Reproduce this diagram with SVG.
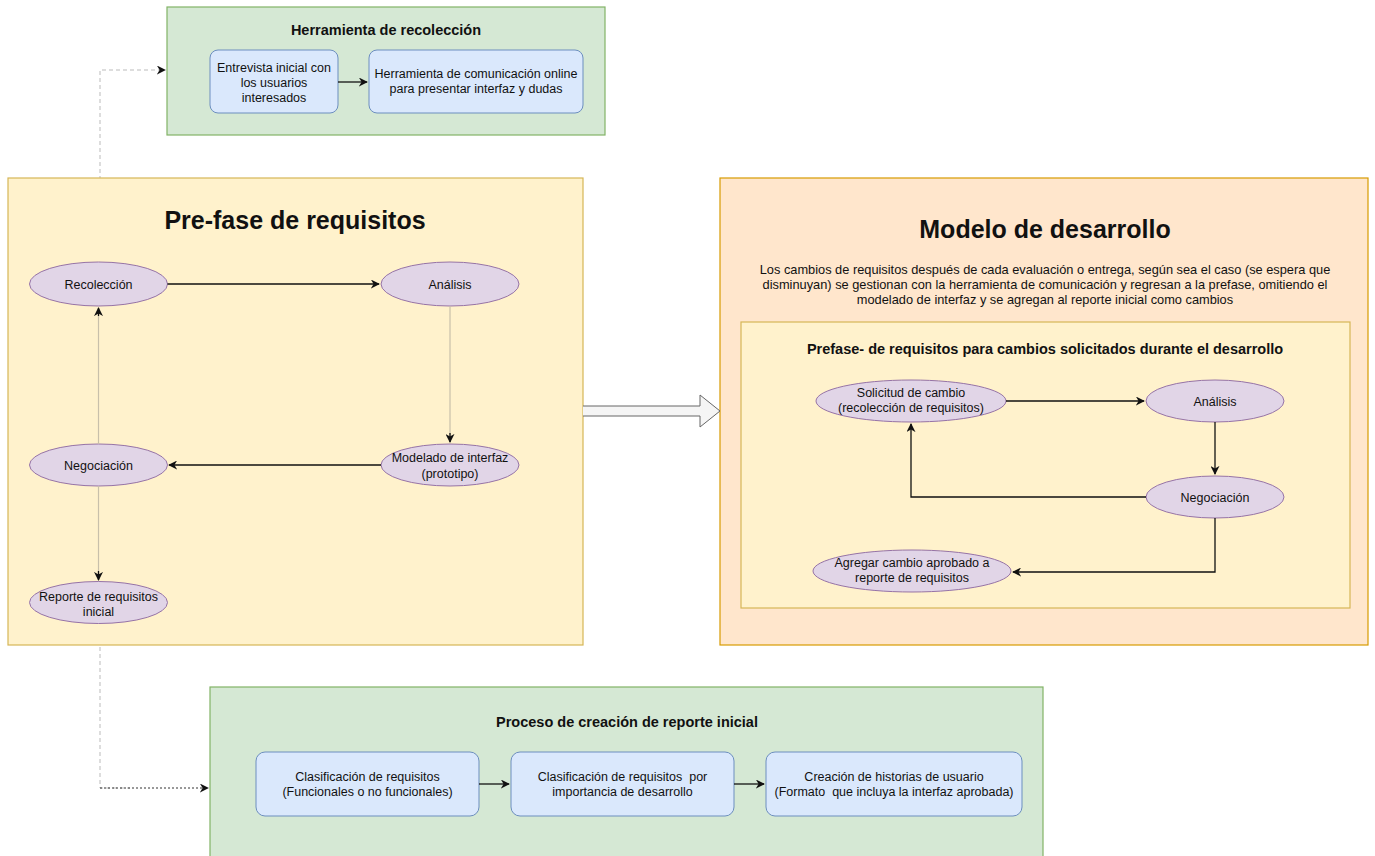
<svg xmlns="http://www.w3.org/2000/svg" width="1375" height="856" viewBox="0 0 1375 856">
<style>
text{font-family:"Liberation Sans",Arial,sans-serif;fill:#111;text-anchor:middle;white-space:pre}
.t{font-size:12.5px}
.s{font-size:12.8px}
.h{font-size:14.5px;font-weight:bold}
.big{font-size:25px;font-weight:bold}
.green{fill:#d5e8d4;stroke:#82b366;stroke-width:1.2}
.yellow{fill:#fff2cc;stroke:#d6b656;stroke-width:1.2}
.orange{fill:#ffe6cc;stroke:#d79b00;stroke-width:1.2}
.blue{fill:#dae8fc;stroke:#6c8ebf;stroke-width:1}
.ell{fill:#e1d5e7;stroke:#9673a6;stroke-width:1}
.blk{fill:none;stroke:#111;stroke-width:1.3}
.gry{fill:none;stroke:#c8c0aa;stroke-width:1.2}
.dash{fill:none;stroke:#bbbbbb;stroke-width:1;stroke-dasharray:4 3}
.dot{fill:none;stroke:#333;stroke-width:1;stroke-dasharray:2 2}
</style>
<defs>
<marker id="ar" viewBox="0 0 10 10" refX="9" refY="5" markerWidth="9" markerHeight="9" markerUnits="userSpaceOnUse" orient="auto">
<path d="M0,0 L10,5 L0,10 L3,5 Z" fill="#111"/>
</marker>
</defs>
<rect width="1375" height="856" fill="#ffffff"/>

<g id="connectors-back">
<polyline class="dash" points="100,180 100,70 165,70" marker-end="url(#ar)"/>
<polyline class="dash" points="100,640 100,788 130,788"/>
<polyline class="dot" points="100,788 208,788" marker-end="url(#ar)"/>
</g>

<g id="herramienta-recoleccion">
<rect class="green" x="167" y="7" width="438" height="128"/>
<text class="h" x="386" y="35">Herramienta de recolección</text>
</g>
<g id="entrevista">
<rect class="blue" x="210" y="50" width="128" height="63" rx="8"/>
<text class="t" x="274" y="72">Entrevista inicial con</text>
<text class="t" x="274" y="87">los usuarios</text>
<text class="t" x="274" y="102">interesados</text>
</g>
<g id="herramienta-comunicacion">
<rect class="blue" x="369" y="50" width="214" height="63" rx="8"/>
<text class="t" x="476" y="78">Herramienta de comunicación online</text>
<text class="t" x="476" y="93">para presentar interfaz y dudas</text>
</g>

<g id="prefase">
<rect class="yellow" x="8" y="178" width="575" height="467"/>
<text class="big" x="295" y="229">Pre-fase de requisitos</text>
</g>
<g id="recoleccion">
<ellipse class="ell" cx="98.5" cy="284" rx="69" ry="22"/>
<text class="t" x="98.5" y="288.5">Recolección</text>
</g>
<g id="analisis">
<ellipse class="ell" cx="450" cy="284" rx="69" ry="22"/>
<text class="t" x="450" y="288.5">Análisis</text>
</g>
<g id="modelado">
<ellipse class="ell" cx="450" cy="465" rx="69" ry="21"/>
<text class="t" x="450" y="461.5">Modelado de interfaz</text>
<text class="t" x="450" y="477.5">(prototipo)</text>
</g>
<g id="negociacion">
<ellipse class="ell" cx="98.5" cy="465" rx="69" ry="21"/>
<text class="t" x="98.5" y="469.5">Negociación</text>
</g>
<g id="reporte">
<ellipse class="ell" cx="98.5" cy="602.5" rx="69" ry="21"/>
<text class="t" x="98.5" y="600.5">Reporte de requisitos</text>
<text class="t" x="98.5" y="615.5">inicial</text>
</g>

<g id="modelo-desarrollo">
<rect class="orange" x="720" y="178" width="648" height="467"/>
<text class="big" x="1045" y="238">Modelo de desarrollo</text>
<text class="s" x="1045" y="274">Los cambios de requisitos después de cada evaluación o entrega, según sea el caso (se espera que</text>
<text class="s" x="1045" y="289">disminuyan) se gestionan con la herramienta de comunicación y regresan a la prefase, omitiendo el</text>
<text class="s" x="1045" y="304">modelado de interfaz y se agregan al reporte inicial como cambios</text>
</g>
<g id="prefase-cambios">
<rect class="yellow" x="741" y="322" width="609" height="286"/>
<text class="h" x="1045" y="354">Prefase- de requisitos para cambios solicitados durante el desarrollo</text>
</g>
<g id="solicitud">
<ellipse class="ell" cx="911" cy="401" rx="95" ry="21"/>
<text class="t" x="911" y="397">Solicitud de cambio</text>
<text class="t" x="911" y="412">(recolección de requisitos)</text>
</g>
<g id="analisis2">
<ellipse class="ell" cx="1215" cy="401" rx="69" ry="21"/>
<text class="t" x="1215" y="405.5">Análisis</text>
</g>
<g id="negociacion2">
<ellipse class="ell" cx="1215" cy="497" rx="69" ry="21"/>
<text class="t" x="1215" y="501.5">Negociación</text>
</g>
<g id="agregar">
<ellipse class="ell" cx="912" cy="571" rx="99" ry="21"/>
<text class="t" x="912" y="567">Agregar cambio aprobado a</text>
<text class="t" x="912" y="582">reporte de requisitos</text>
</g>

<g id="proceso-reporte">
<rect class="green" x="210" y="687" width="833" height="175"/>
<text class="h" x="627" y="727">Proceso de creación de reporte inicial</text>
</g>
<g id="clasificacion1">
<rect class="blue" x="256" y="752" width="223" height="64" rx="9"/>
<text class="t" x="367.5" y="781">Clasificación de requisitos</text>
<text class="t" x="367.5" y="796">(Funcionales o no funcionales)</text>
</g>
<g id="clasificacion2">
<rect class="blue" x="511" y="752" width="223" height="64" rx="9"/>
<text class="t" x="622.5" y="781">Clasificación de requisitos  por</text>
<text class="t" x="622.5" y="796">importancia de desarrollo</text>
</g>
<g id="historias">
<rect class="blue" x="766" y="752" width="256" height="64" rx="9"/>
<text class="t" x="894" y="781">Creación de historias de usuario</text>
<text class="t" x="894" y="796">(Formato  que incluya la interfaz aprobada)</text>
</g>

<g id="connectors">
<line class="blk" x1="338" y1="82" x2="367" y2="82" marker-end="url(#ar)"/>
<line class="blk" x1="167.5" y1="284" x2="379" y2="284" marker-end="url(#ar)"/>
<line class="gry" x1="450" y1="306" x2="450" y2="441"/>
<line class="blk" x1="450" y1="433" x2="450" y2="442" marker-end="url(#ar)"/>
<line class="blk" x1="381" y1="465" x2="169" y2="465" marker-end="url(#ar)"/>
<line class="gry" x1="98.5" y1="444" x2="98.5" y2="309"/>
<line class="blk" x1="98.5" y1="316" x2="98.5" y2="308" marker-end="url(#ar)"/>
<line class="gry" x1="98.5" y1="486" x2="98.5" y2="578"/>
<line class="blk" x1="98.5" y1="571" x2="98.5" y2="580" marker-end="url(#ar)"/>
<path d="M583,406 L700,406 L700,395 L720,411 L700,427 L700,416 L583,416" fill="#f5f5f5" stroke="#666" stroke-width="1"/>
<line class="blk" x1="1006" y1="401" x2="1144" y2="401" marker-end="url(#ar)"/>
<line class="blk" x1="1215" y1="422" x2="1215" y2="474" marker-end="url(#ar)"/>
<polyline class="blk" points="1146,497 911,497 911,424" marker-end="url(#ar)"/>
<polyline class="blk" points="1215,518 1215,572 1013,572" marker-end="url(#ar)"/>
<line class="blk" x1="479" y1="784" x2="509" y2="784" marker-end="url(#ar)"/>
<line class="blk" x1="734" y1="784" x2="764" y2="784" marker-end="url(#ar)"/>
</g>
</svg>
